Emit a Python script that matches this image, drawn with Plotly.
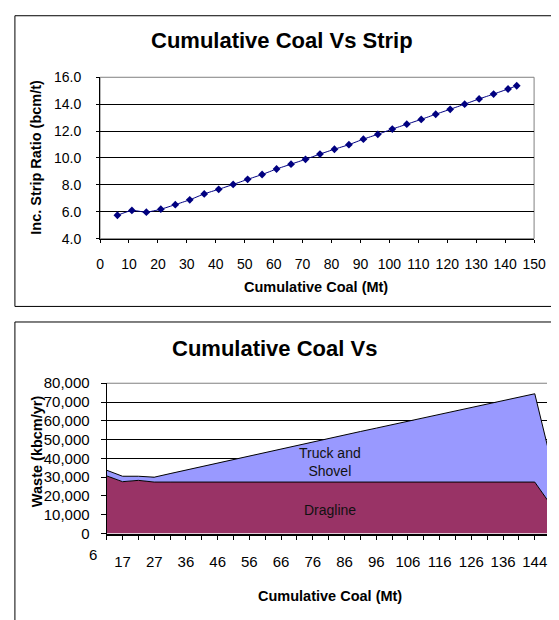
import plotly.graph_objects as go

# ---------------- data ----------------
# Top chart: cumulative coal (Mt) vs incremental strip ratio (bcm/t)
cum_coal = [6, 11, 16, 21, 26, 31, 36, 41, 46, 51, 56, 61, 66, 71, 76, 81, 86, 91, 96,
            101, 106, 111, 116, 121, 126, 131, 136, 141, 144]
strip_ratio = [5.74, 6.10, 5.97, 6.19, 6.53, 6.89, 7.33, 7.67, 8.03, 8.41, 8.77, 9.18,
               9.54, 9.90, 10.29, 10.65, 10.99, 11.40, 11.76, 12.15, 12.51, 12.87, 13.25,
               13.62, 14.00, 14.39, 14.75, 15.13, 15.37]

# Bottom chart: waste by equipment (kbcm/yr), one value per category position
period_idx = list(range(29))
dragline = [30700, 27600, 28300, 27400, 27400, 27400, 27400, 27400, 27400, 27400,
            27400, 27400, 27400, 27400, 27400, 27400, 27400, 27400, 27400, 27400,
            27400, 27400, 27400, 27400, 27400, 27400, 27400, 27400, 15400]
truck_shovel = [3000, 2900, 2200, 2600, 4500, 6400, 8300, 10200, 12000, 13900,
                15800, 17700, 19500, 21400, 23200, 25000, 26900, 28700, 30500, 32400,
                34200, 36000, 37800, 39600, 41500, 43300, 45100, 47000, 24300]
bottom_tick_pos = [1, 3, 5, 7, 9, 11, 13, 15, 17, 19, 21, 23, 25, 27]
bottom_tick_text = ["17", "27", "36", "46", "56", "66", "76", "86", "96", "106", "116",
                    "126", "136", "144"]
first_label_text = "6"

FONT = "Arial, Liberation Sans, sans-serif"
OFF = 8  # page body margin
W, H = 559 - OFF, 620 - OFF

def px(x):
    return (x - OFF) / W

def py(y):
    return 1 - (y - OFF) / H

fig = go.Figure()

fig.add_trace(go.Scatter(
    x=cum_coal, y=strip_ratio, mode="lines+markers",
    line=dict(color="#000080", width=1, shape="spline", smoothing=0.5),
    marker=dict(symbol="diamond", size=6, color="#000080"),
    xaxis="x", yaxis="y", showlegend=False))

fig.add_trace(go.Scatter(
    x=period_idx, y=dragline, mode="lines", stackgroup="w",
    line=dict(color="black", width=1), fillcolor="#993366",
    xaxis="x2", yaxis="y2", showlegend=False))
fig.add_trace(go.Scatter(
    x=period_idx, y=truck_shovel, mode="lines", stackgroup="w",
    line=dict(color="black", width=1), fillcolor="#9999FF",
    xaxis="x2", yaxis="y2", showlegend=False))

axis_common = dict(showline=True, linecolor="black", linewidth=1, ticks="outside",
                   tickcolor="black", zeroline=False,
                   tickfont=dict(family=FONT, size=14, color="black"))

x2_left = 105.5
x2_scale = 16.33  # px per category

fig.update_layout(
    width=W, height=H, margin=dict(l=0, r=0, t=0, b=0),
    paper_bgcolor="white", plot_bgcolor="white",
    xaxis=dict(domain=[px(98.7), px(545.7)], anchor="y", range=[0, 150], dtick=10,
               tick0=0, ticklen=3, showgrid=False, ticklabelstandoff=10, **axis_common),
    yaxis=dict(domain=[py(236), py(70)], anchor="x", range=[4, 16], dtick=2,
               tickformat=".1f", ticklen=3, showgrid=True, gridcolor="black",
               gridwidth=1, ticklabelstandoff=12, **axis_common),
    xaxis2=dict(domain=[px(x2_left), 1.0], anchor="y2",
                range=[0, (559 - x2_left) / x2_scale],
                tickmode="array", tickvals=bottom_tick_pos, ticktext=bottom_tick_text,
                ticklen=5, showgrid=False, ticklabelstandoff=9,
                minor=dict(ticks="outside", ticklen=5, dtick=1, tick0=0,
                           tickcolor="black", showgrid=False),
                **{**axis_common, "tickfont": dict(family=FONT, size=15, color="black"),
                   "linewidth": 1.5}),
    yaxis2=dict(domain=[py(539.3), py(384.7)], anchor="x2", range=[0, 80000],
                dtick=10000, tickformat=",d", ticklen=5, showgrid=True,
                gridcolor="black", gridwidth=1, ticklabelstandoff=8,
                **{**axis_common, "tickfont": dict(family=FONT, size=15, color="black")}),
)

shapes = [
    # outer frames
    dict(type="rect", xref="paper", yref="paper", x0=px(11), x1=1.02, y0=py(305.7),
         y1=py(6.7), line=dict(color="black", width=1), layer="below"),
    dict(type="rect", xref="paper", yref="paper", x0=px(11), x1=1.02, y0=-0.05,
         y1=py(321.7), line=dict(color="black", width=1), layer="below"),
    # gray plot-area borders
    dict(type="rect", xref="x domain", yref="y domain", x0=0, x1=1, y0=0, y1=1,
         line=dict(color="#808080", width=1), layer="below"),
    dict(type="line", xref="x2 domain", yref="y2 domain", x0=0, x1=1, y0=1, y1=1,
         line=dict(color="#808080", width=1), layer="below"),
]
fig.update_layout(shapes=shapes)

ann = [
    dict(text="<b>Cumulative Coal Vs Strip</b>", x=px(286), y=py(32.5), xref="paper",
         yref="paper", showarrow=False, font=dict(family=FONT, size=22, color="black"),
         xanchor="center", yanchor="middle"),
    dict(text="<b>Inc. Strip Ratio (bcm/t)</b>", x=px(33), y=py(152.5), xref="paper",
         yref="paper", showarrow=False, textangle=-90,
         font=dict(family=FONT, size=14.5, color="black"), xanchor="center",
         yanchor="middle"),
    dict(text="<b>Cumulative Coal (Mt)</b>", x=px(321.3), y=py(286), xref="paper",
         yref="paper", showarrow=False, font=dict(family=FONT, size=14.5, color="black"),
         xanchor="center", yanchor="middle"),
    dict(text="<b>Cumulative Coal Vs</b>", x=px(278), y=py(348.5), xref="paper",
         yref="paper", showarrow=False, font=dict(family=FONT, size=22, color="black"),
         xanchor="center", yanchor="middle"),
    dict(text="<b>Waste (kbcm/yr)</b>", x=px(33.3), y=py(455), xref="paper",
         yref="paper", showarrow=False, textangle=-90,
         font=dict(family=FONT, size=14.5, color="black"), xanchor="center",
         yanchor="middle"),
    dict(text="<b>Cumulative Coal (Mt)</b>", x=px(335), y=py(603.3), xref="paper",
         yref="paper", showarrow=False, font=dict(family=FONT, size=14.5, color="black"),
         xanchor="center", yanchor="middle"),
    dict(text="Truck and<br>Shovel", x=px(335), y=py(466), xref="paper", yref="paper",
         showarrow=False, font=dict(family=FONT, size=14, color="#111111"),
         xanchor="center", yanchor="middle"),
    dict(text="Dragline", x=px(335), y=py(515), xref="paper", yref="paper",
         showarrow=False, font=dict(family=FONT, size=14, color="#111111"),
         xanchor="center", yanchor="middle"),
    dict(text=first_label_text, x=px(91.5), y=py(560.5), xref="paper",
         yref="paper", showarrow=False, font=dict(family=FONT, size=15, color="black"),
         xanchor="center", yanchor="middle"),
]
fig.update_layout(annotations=ann)

fig.write_html("out.html")
